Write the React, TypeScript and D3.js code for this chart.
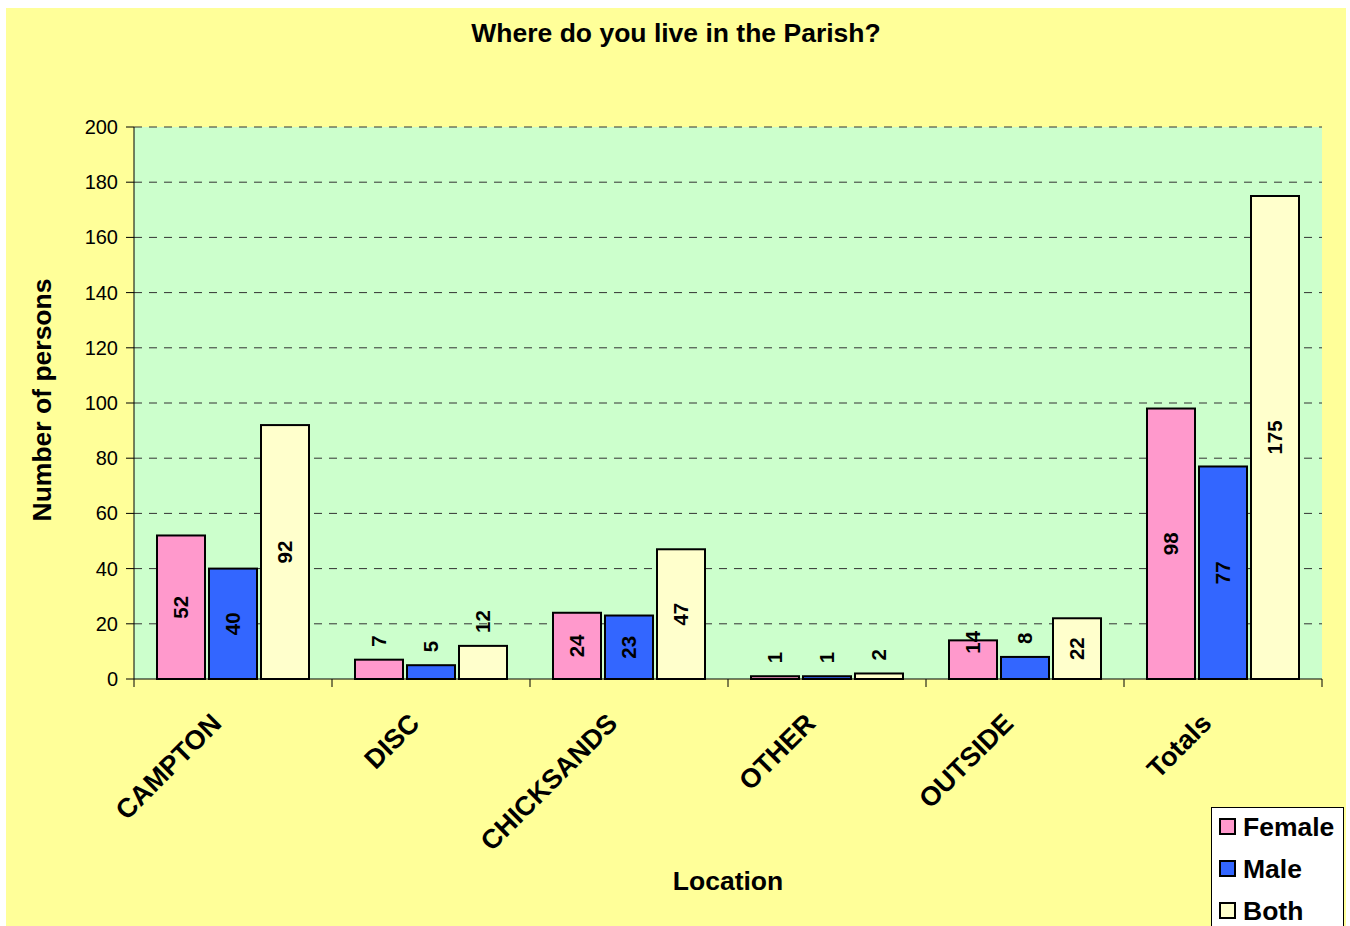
import React from "react";
import * as d3 from "d3";

const categories = ["CAMPTON", "DISC", "CHICKSANDS", "OTHER", "OUTSIDE", "Totals"];
const seriesNames = ["Female", "Male", "Both"];
const female = [52, 7, 24, 1, 14, 98];
const male = [40, 5, 23, 1, 8, 77];
const both = [92, 12, 47, 2, 22, 175];
const yTicks = [0, 20, 40, 60, 80, 100, 120, 140, 160, 180, 200];
const colors = ["#FF99CC", "#3366FF", "#FFFFCC"];

const W = 1350;
const H = 926;
const plot = { left: 134, top: 127, right: 1322, bottom: 679 };
const FONT = "'Liberation Sans', Arial, sans-serif";

export default function App() {
  const seriesValues = [female, male, both];
  const x0 = d3.scaleBand<string>().domain(categories).range([plot.left, plot.right]).padding(0);
  const gw = x0.bandwidth();
  const x1 = d3
    .scaleBand<string>()
    .domain(seriesNames)
    .range([gw * (23 / 198), gw * (175 / 198)])
    .paddingInner(4 / 52)
    .paddingOuter(0);
  const y = d3.scaleLinear().domain([0, 200]).range([plot.bottom, plot.top]);
  const labelFs = 20.5;

  const bars: React.ReactNode[] = [];
  const labels: React.ReactNode[] = [];
  categories.forEach((c, ci) => {
    seriesNames.forEach((s, si) => {
      const v = seriesValues[si][ci];
      const bx = (x0(c) as number) + (x1(s) as number);
      const bw = x1.bandwidth();
      const top = y(v);
      const bh = y(0) - top;
      bars.push(
        <rect
          key={`b-${ci}-${si}`}
          x={bx}
          y={top}
          width={bw}
          height={bh}
          fill={colors[si]}
          stroke="#000"
          strokeWidth={2}
        />
      );
      const textLen = String(v).length * 0.556 * labelFs;
      let yc: number;
      if (bh >= textLen + 25) yc = top + bh / 2;
      else if (bh >= textLen + 14) yc = top + 2;
      else yc = top - 13 - textLen / 2;
      labels.push(
        <text
          key={`l-${ci}-${si}`}
          transform={`translate(${bx + bw / 2 - 1},${yc}) rotate(-90)`}
          textAnchor="middle"
          dominantBaseline="central"
          fontFamily={FONT}
          fontWeight="bold"
          fontSize={labelFs}
          fill="#000"
        >
          {v}
        </text>
      );
    });
  });

  const boundaries = d3.range(categories.length + 1).map((i) => plot.left + i * gw);

  return (
    <svg
      width={W}
      height={H}
      style={{ position: "absolute", left: 0, top: 0, display: "block" }}
      xmlns="http://www.w3.org/2000/svg"
    >
      <rect x={0} y={0} width={W} height={H} fill="#fff" />
      <rect x={6} y={8} width={1340} height={918} fill="#FFFF99" />
      <rect
        x={plot.left}
        y={plot.top}
        width={plot.right - plot.left}
        height={plot.bottom - plot.top}
        fill="#CCFFCC"
      />
      {yTicks.slice(1).map((t) => (
        <line
          key={`g-${t}`}
          x1={plot.left}
          x2={plot.right}
          y1={y(t)}
          y2={y(t)}
          stroke="#333"
          strokeWidth={1}
          strokeDasharray="8,7"
        />
      ))}
      {bars}
      {/* y axis */}
      <line x1={plot.left} x2={plot.left} y1={plot.top} y2={plot.bottom} stroke="#000" strokeWidth={1} />
      {yTicks.map((t) => (
        <g key={`yt-${t}`}>
          <line x1={plot.left - 8} x2={plot.left} y1={y(t)} y2={y(t)} stroke="#000" strokeWidth={1} />
          <text
            x={plot.left - 16}
            y={y(t)}
            textAnchor="end"
            dominantBaseline="central"
            fontFamily={FONT}
            fontSize={20}
            fill="#000"
          >
            {t}
          </text>
        </g>
      ))}
      {/* x axis */}
      <line x1={plot.left} x2={plot.right} y1={plot.bottom} y2={plot.bottom} stroke="#000" strokeWidth={1} />
      {boundaries.map((bx, i) => (
        <line key={`xt-${i}`} x1={bx} x2={bx} y1={plot.bottom} y2={plot.bottom + 8} stroke="#000" strokeWidth={1} />
      ))}
      {labels}
      {categories.map((c) => (
        <text
          key={`c-${c}`}
          transform={`translate(${(x0(c) as number) + gw / 2 - 10},${plot.bottom + 46}) rotate(-45)`}
          textAnchor="end"
          fontFamily={FONT}
          fontWeight="bold"
          fontSize={27}
          fill="#000"
        >
          {c}
        </text>
      ))}
      {/* titles */}
      <text
        x={676}
        y={33}
        textAnchor="middle"
        dominantBaseline="central"
        fontFamily={FONT}
        fontWeight="bold"
        fontSize={26.5}
        fill="#000"
      >
        Where do you live in the Parish?
      </text>
      <text
        x={728}
        y={881}
        textAnchor="middle"
        dominantBaseline="central"
        fontFamily={FONT}
        fontWeight="bold"
        fontSize={26.5}
        fill="#000"
      >
        Location
      </text>
      <text
        transform={`translate(42,400) rotate(-90)`}
        textAnchor="middle"
        dominantBaseline="central"
        fontFamily={FONT}
        fontWeight="bold"
        fontSize={26.5}
        fill="#000"
      >
        Number of persons
      </text>
      {/* legend */}
      <rect x={1211.5} y={807.5} width={132} height={130} fill="#fff" stroke="#000" strokeWidth={1} />
      {seriesNames.map((s, i) => (
        <g key={`lg-${s}`}>
          <rect
            x={1220}
            y={819 + i * 42}
            width={15}
            height={15}
            fill={colors[i]}
            stroke="#000"
            strokeWidth={2}
          />
          <text
            x={1243}
            y={827 + i * 42}
            dominantBaseline="central"
            fontFamily={FONT}
            fontWeight="bold"
            fontSize={26.5}
            fill="#000"
          >
            {s}
          </text>
        </g>
      ))}
    </svg>
  );
}
